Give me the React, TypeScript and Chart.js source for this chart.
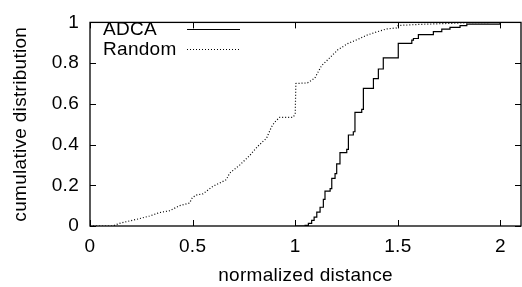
import React, { useEffect, useRef } from 'react';
import { Chart, registerables } from 'chart.js';

Chart.register(...registerables);

// ---- data ----
const xTicks = [0, 0.5, 1, 1.5, 2];
const yTicks = [0, 0.2, 0.4, 0.6, 0.8, 1];
const seriesNames = ['ADCA', 'Random'];
const xTitle = 'normalized distance';
const yTitle = 'cumulative distribution';

const adcaX = [1.0, 1.048, 1.064, 1.08, 1.092, 1.105, 1.121, 1.137, 1.145, 1.17, 1.178, 1.194, 1.202, 1.218, 1.251, 1.259, 1.283, 1.291, 1.324, 1.332, 1.381, 1.405, 1.429, 1.502, 1.568, 1.576, 1.6, 1.673, 1.714, 1.754, 1.803, 1.836, 1.998, 2.1];
const adcaY = [0, 0.003, 0.013, 0.028, 0.044, 0.068, 0.092, 0.131, 0.171, 0.184, 0.234, 0.257, 0.305, 0.36, 0.376, 0.447, 0.463, 0.558, 0.573, 0.676, 0.724, 0.771, 0.826, 0.897, 0.913, 0.921, 0.94, 0.955, 0.967, 0.976, 0.984, 0.992, 1.0, 1.0];

const randomX = [0, 0.11, 0.144, 0.193, 0.241, 0.29, 0.339, 0.388, 0.437, 0.485, 0.499, 0.518, 0.55, 0.599, 0.664, 0.68, 0.729, 0.778, 0.819, 0.86, 0.884, 0.9, 0.924, 0.989, 1.0, 1.003, 1.06, 1.095, 1.128, 1.168, 1.208, 1.258, 1.315, 1.348, 1.396, 1.445, 1.494, 1.502, 1.6, 1.835, 2.0, 2.1];
const randomY = [0, 0, 0.013, 0.025, 0.036, 0.049, 0.066, 0.075, 0.1, 0.113, 0.14, 0.152, 0.158, 0.195, 0.227, 0.259, 0.299, 0.346, 0.393, 0.431, 0.486, 0.51, 0.534, 0.534, 0.55, 0.7, 0.703, 0.726, 0.787, 0.826, 0.866, 0.897, 0.921, 0.937, 0.953, 0.968, 0.973, 0.985, 0.99, 0.998, 1.0, 1.0];

const FONT = "'Liberation Sans', Arial, Helvetica, sans-serif";
const FONT_SIZE = 19;
const SPACING = '0.3px';

const setSpacing = (chart: any) => {
  try { (chart.ctx as any).letterSpacing = SPACING; } catch (e) { /* ignore */ }
};

const spacingPlugin = {
  id: 'spacing',
  beforeInit: setSpacing,
  beforeUpdate: setSpacing,
  beforeLayout: setSpacing,
  beforeDraw: setSpacing,
};

const framePlugin = {
  id: 'frame',
  afterDraw(chart: any) {
    const { ctx, chartArea, scales } = chart;
    const { left, right, top, bottom } = chartArea;
    ctx.save();
    ctx.strokeStyle = '#000';
    ctx.lineWidth = 1.3;
    ctx.setLineDash([]);
    ctx.strokeRect(left, top, right - left, bottom - top);
    ctx.lineWidth = 1;
    const tl = 6;
    ctx.beginPath();
    xTicks.forEach((v) => {
      const px = Math.round(scales.x.getPixelForValue(v)) + 0.5;
      ctx.moveTo(px, bottom);
      ctx.lineTo(px, bottom - tl);
      ctx.moveTo(px, top);
      ctx.lineTo(px, top + tl);
    });
    yTicks.forEach((v) => {
      const py = Math.round(scales.y.getPixelForValue(v)) + 0.5;
      ctx.moveTo(left, py);
      ctx.lineTo(left + tl, py);
      ctx.moveTo(right, py);
      ctx.lineTo(right - tl, py);
    });
    ctx.stroke();

    // legend
    (ctx as any).letterSpacing = SPACING;
    ctx.font = `${FONT_SIZE}px ${FONT}`;
    ctx.fillStyle = '#000';
    ctx.textAlign = 'left';
    ctx.textBaseline = 'alphabetic';
    ctx.fillText(seriesNames[0], 103, 35);
    ctx.fillText(seriesNames[1], 103, 55);
    ctx.lineWidth = 1.2;
    ctx.beginPath();
    ctx.moveTo(187, 29.5);
    ctx.lineTo(240, 29.5);
    ctx.stroke();
    ctx.setLineDash([1, 2]);
    ctx.beginPath();
    ctx.moveTo(187, 49.5);
    ctx.lineTo(240, 49.5);
    ctx.stroke();
    ctx.restore();
  },
};

export default function App() {
  const ref = useRef<HTMLCanvasElement | null>(null);
  useEffect(() => {
    document.body.style.margin = '0';
    const canvas = ref.current;
    if (!canvas) return;
    const tickFont = { family: FONT, size: FONT_SIZE };
    const chart = new Chart(canvas, {
      type: 'line',
      data: {
        datasets: [
          {
            label: seriesNames[0],
            data: adcaX.map((x, i) => ({ x, y: adcaY[i] })),
            borderColor: '#000',
            borderWidth: 1.2,
            stepped: 'before',
            pointRadius: 0,
            fill: false,
          },
          {
            label: seriesNames[1],
            data: randomX.map((x, i) => ({ x, y: randomY[i] })),
            borderColor: '#000',
            borderWidth: 1.2,
            borderDash: [1, 2],
            pointRadius: 0,
            tension: 0,
            fill: false,
          },
        ],
      },
      options: {
        animation: false,
        responsive: false,
        devicePixelRatio: 1,
        events: [],
        layout: { padding: { top: 15, right: 1, left: 0, bottom: 0 } },
        plugins: { legend: { display: false }, tooltip: { enabled: false } },
        scales: {
          x: {
            type: 'linear',
            min: 0,
            max: 2.1,
            afterBuildTicks: (s: any) => {
              s.ticks = xTicks.map((value) => ({ value }));
            },
            afterFit: (s: any) => {
              s.height = 61;
            },
            grid: { display: false, drawTicks: false },
            border: { display: false },
            ticks: {
              font: tickFont,
              color: '#000',
              padding: 9,
              maxRotation: 0,
              autoSkip: false,
              callback: (v: any) => String(v),
            },
            title: {
              display: true,
              text: xTitle,
              font: tickFont,
              color: '#000',
              padding: { top: 0, bottom: 0 },
            },
          },
          y: {
            type: 'linear',
            min: 0,
            max: 1,
            afterBuildTicks: (s: any) => {
              s.ticks = yTicks.map((value) => ({ value }));
            },
            afterFit: (s: any) => {
              s.width = 90;
            },
            grid: { display: false, drawTicks: false },
            border: { display: false },
            ticks: {
              font: tickFont,
              color: '#000',
              padding: 11,
              autoSkip: false,
              callback: (v: any) => String(v),
            },
            title: {
              display: true,
              text: yTitle,
              font: tickFont,
              color: '#000',
              padding: { top: 9.5, bottom: 0 },
            },
          },
        },
      },
      plugins: [spacingPlugin, framePlugin],
    } as any);
    return () => chart.destroy();
  }, []);
  return <canvas ref={ref} width={522} height={287} style={{ display: 'block' }} />;
}
